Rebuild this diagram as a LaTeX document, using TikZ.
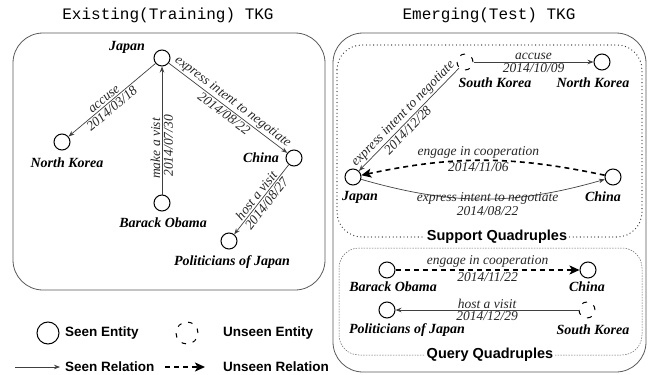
\documentclass[tikz,border=0pt]{standalone}
\usepackage{fontspec}
\setmainfont{Liberation Serif}
\setsansfont{Liberation Sans}
\setmonofont{Liberation Mono}
\usetikzlibrary{arrows.meta}
\tikzset{
  ent/.style={circle,draw,line width=1pt,minimum size=16pt,inner sep=0pt},
  uent/.style={ent,dash pattern=on 5pt off 7.5pt},
  lent/.style={circle,draw,line width=1pt,minimum size=22pt,inner sep=0pt},
  luent/.style={lent,dash pattern=on 4.5pt off 7pt},
  lab/.style={font={\fontsize{14}{16}\selectfont\bfseries\itshape}},
  el/.style={font={\fontsize{13.5}{15}\selectfont\itshape},text=black!85,inner sep=1.5pt},
  hdr/.style={font={\fontsize{16}{18}\selectfont\ttfamily}},
  leg/.style={font={\fontsize{13.5}{15}\selectfont\sffamily\bfseries},anchor=west,inner sep=0pt},
  quad/.style={font={\fontsize{14.5}{16}\selectfont\sffamily\bfseries},fill=white,inner sep=2pt},
  rel/.style={line width=0.7pt,draw=black!75,-{Stealth[length=6pt,width=4.5pt]}},
  urel/.style={line width=1.6pt,dash pattern=on 5pt off 4pt,-{Stealth[length=10pt,width=9pt,inset=2.5pt]}},
  boxline/.style={draw=black!65,line width=0.8pt},
}
\begin{document}
\begin{tikzpicture}[x=1pt,y=-1pt]
\useasboundingbox (0,0) rectangle (649,375);

% headers
\node[hdr] (h1) at (168,15) {Existing(Training) TKG};
\node[hdr] (h2) at (489,15) {Emerging(Test) TKG};

% boxes
\draw[boxline,rounded corners=30pt] (13,33) rectangle (325,290);
\draw[boxline,rounded corners=30pt] (333,33) rectangle (646,372);
\draw[line width=1.3pt,black!80,line cap=round,dash pattern=on 0pt off 3.6pt,rounded corners=25pt] (337,45) rectangle (642,237);
\draw[draw=black!60,line width=0.5pt,dash pattern=on 1.5pt off 1.2pt,rounded corners=20pt] (339,248) rectangle (642,355);
\node[quad] (sq) at (497,237) {Support Quadruples};
\node[quad] (qq) at (490,355) {Query Quadruples};

% left graph
\node[ent] (j) at (162,58) {};
\node[lab] (jl) at (127,47) {Japan};
\node[ent] (nk) at (62,142) {};
\node[lab] (nkl) at (67,163) {North Korea};
\node[ent] (bo) at (162,203) {};
\node[lab] (bol) at (163,223) {Barack Obama};
\node[ent] (ch) at (294,158) {};
\node[lab] (chl) at (261,158) {China};
\node[ent] (pj) at (229,241) {};
\node[lab] (pjl) at (232,262) {Politicians of Japan};

\draw[rel] (j) -- node[el,sloped,above,pos=0.55]{accuse} node[el,sloped,below,pos=0.55]{2014/03/18} (nk);
\draw[rel] (bo) -- node[el,sloped,above,pos=0.36]{make a vist} node[el,sloped,below,pos=0.38]{2014/07/30} (j);
\draw[rel] (j) -- node[el,sloped,above]{express intent to negotiate} node[el,sloped,below]{2014/08/22} (ch);
\draw[rel] (ch) -- node[el,sloped,above]{host a visit} node[el,sloped,below]{2014/08/27} (pj);

% support quadruples
\node[uent] (sk) at (465,62) {};
\node[lab] (skl) at (495,83) {South Korea};
\node[ent] (nk2) at (602,62) {};
\node[lab] (nk2l) at (593,83) {North Korea};
\node[ent] (j2) at (353,177) {};
\node[lab] (j2l) at (360,197) {Japan};
\node[ent] (ch2) at (613,177) {};
\node[lab] (ch2l) at (603,197) {China};

\draw[rel] (sk) -- node[el,above]{accuse} node[el,below]{2014/10/09} (nk2);
\draw[rel] (sk) -- node[el,sloped,above,pos=0.5]{express intent to negotiate} node[el,sloped,below,pos=0.56]{2014/12/28} (j2);
\draw[urel] (ch2) to[bend right=12] node[el,above,pos=0.52]{engage in cooperation} node[el,below,pos=0.52]{2014/11/06} (j2);
\draw[rel] (j2) to[bend right=16] node[el,pos=0.52]{express intent to negotiate} node[el,below,pos=0.52,yshift=-6pt]{2014/08/22} (ch2);

% query quadruples
\node[ent] (bo2) at (387,270) {};
\node[lab] (bo2l) at (393,287) {Barack Obama};
\node[ent] (ch3) at (588,270) {};
\node[lab] (ch3l) at (587,287) {China};
\node[ent] (pj2) at (387,310) {};
\node[lab] (pj2l) at (407,330) {Politicians of Japan};
\node[uent] (sk2) at (587,310) {};
\node[lab] (sk2l) at (593,330) {South Korea};

\draw[urel] (bo2) -- node[el,above]{engage in cooperation} node[el,below]{2014/11/22} (ch3);
\draw[rel] (sk2) -- node[el,above]{host a visit} node[el,below]{2014/12/29} (pj2);

% legend
\node[lent] (le1) at (48,333) {};
\node[leg] (lt1) at (65,333) {Seen Entity};
\node[luent] (le2) at (187,333) {};
\node[leg] (lt2) at (223,333) {Unseen Entity};
\coordinate (la1) at (15,367);
\coordinate (lb1) at (60,367);
\draw[rel] (la1) -- (lb1);
\node[leg] (lt3) at (65,367) {Seen Relation};
\coordinate (la2) at (165,367);
\coordinate (lb2) at (205,367);
\draw[urel] (la2) -- (lb2);
\node[leg] (lt4) at (223,367) {Unseen Relation};
\end{tikzpicture}
\end{document}
